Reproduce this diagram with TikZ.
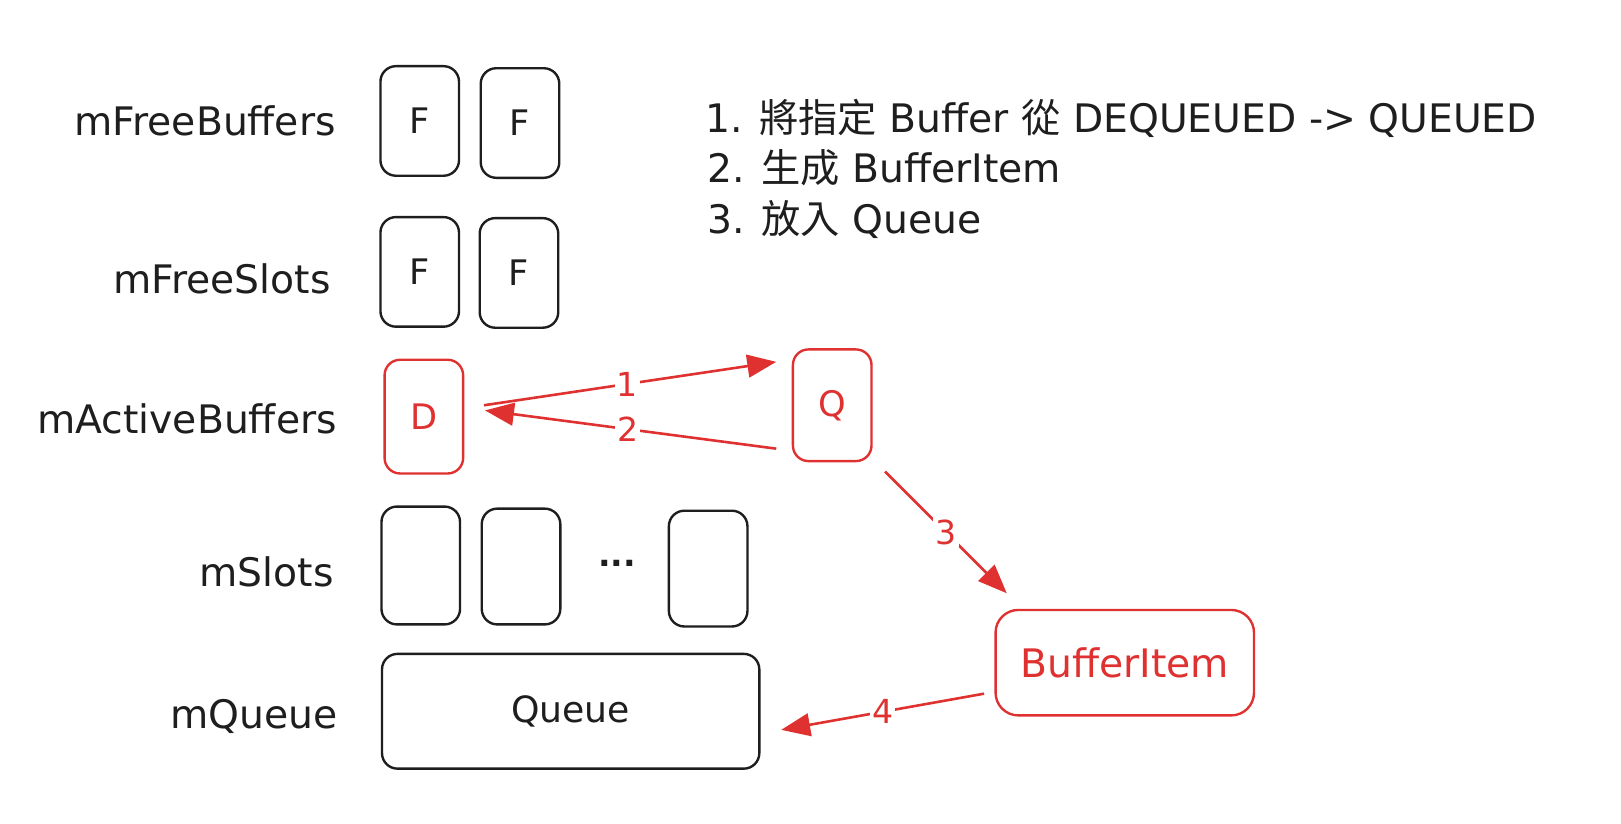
\documentclass[tikz,border=0pt]{standalone}
\usepackage{fontspec}
\setmainfont{DejaVu Sans}
\newfontfamily\cjk{Noto Sans CJK TC}
\usetikzlibrary{arrows.meta}
\definecolor{ink}{HTML}{1E1E1E}
\definecolor{exred}{HTML}{E03131}
\tikzset{
  cell/.style={draw=ink, line width=2.3pt, rounded corners=15pt, minimum width=76pt, minimum height=106pt, text=ink, font=\fontsize{34}{40}\selectfont, inner sep=0pt},
  redcell/.style={cell, draw=exred, text=exred},
  rowlabel/.style={anchor=east, text=ink, font=\fontsize{38}{44}\selectfont, inner sep=0pt},
  arr/.style={draw=exred, line width=2.5pt, -{Triangle[length=28pt,width=22pt]}},
  steplbl/.style={fill=white, text=exred, font=\fontsize{32}{38}\selectfont, inner sep=2pt},
  note/.style={anchor=west, text=ink, font=\fontsize{38}{44}\selectfont, inner sep=0pt}
}
\begin{document}
\begin{tikzpicture}[x=1pt,y=-1pt]
\useasboundingbox[fill=white] (0,0) rectangle (1568,797);
% row labels
\node[rowlabel] (lfb) at (325,117) {mFreeBuffers};
\node[rowlabel] (lfs) at (320,270) {mFreeSlots};
\node[rowlabel] (lab) at (326,405) {mActiveBuffers};
\node[rowlabel] (lms) at (323,553) {mSlots};
\node[rowlabel] (lmq) at (327,693) {mQueue};
% mFreeBuffers
\node[cell] (fb1) at (406,117) {F};
\node[cell] (fb2) at (503,119) {F};
% mFreeSlots
\node[cell] (fs1) at (406,263) {F};
\node[cell] (fs2) at (502,264) {F};
% mActiveBuffers
\node[redcell, minimum height=110pt] (d) at (410,403) {D};
\node[redcell, minimum height=108pt] (q) at (805,392) {Q};
% mSlots
\node[cell, minimum height=114pt] (s1) at (407,547) {};
\node[cell, minimum height=112pt] (s2) at (504,548) {};
\node[text=ink, font=\bfseries\fontsize{32}{38}\selectfont] (dots) at (597,545) {...};
\node[cell, minimum height=112pt] (s3) at (685,550) {};
% mQueue
\node[cell, minimum width=365pt, minimum height=111pt, font=\fontsize{35}{42}\selectfont] (queue) at (552,688) {Queue};
% BufferItem
\node[redcell, minimum width=250pt, minimum height=102pt, rounded corners=22pt, font=\fontsize{38}{44}\selectfont] (bi) at (1088,641) {BufferItem};
% notes
\node[note] (n1) at (682,115) {1. {\cjk 將指定} Buffer {\cjk 從} DEQUEUED -> QUEUED};
\node[note] (n2) at (684,162) {2. {\cjk 生成} BufferItem};
\node[note] (n3) at (684,212) {3. {\cjk 放入} Queue};
% arrows
\draw[arr] ([shift={(19,-11)}]d.east) -- node[steplbl, pos=0.49]{1} ([shift={(-15,-42)}]q.west);
\draw[arr] ([shift={(-15,42)}]q.west) -- node[steplbl, pos=0.51]{2} ([shift={(20,-6)}]d.east);
\draw[arr] ([shift={(12,9)}]q.south east) -- node[steplbl, pos=0.5]{3} ([shift={(12,-15)}]bi.north west);
\draw[arr] ([shift={(-10,30)}]bi.west) -- node[steplbl, pos=0.5]{4} ([shift={(20,18)}]queue.east);
\end{tikzpicture}
\end{document}
